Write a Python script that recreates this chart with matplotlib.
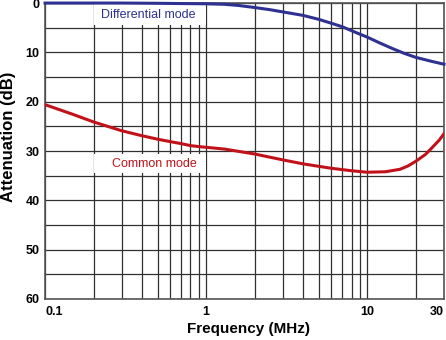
import numpy as np
import matplotlib.pyplot as plt
from matplotlib.patches import Rectangle
from matplotlib.ticker import FixedLocator, NullFormatter

plt.rcParams['font.family'] = ['Liberation Sans', 'DejaVu Sans']

# values
diff_freq = [0.1, 0.2, 0.3, 0.5, 0.7, 1.0, 1.3, 1.6, 2, 2.5, 3, 4, 5, 6, 7, 8, 9, 10, 12, 14.3, 17, 20, 25, 30]
diff_db = [0.0, 0.0, 0.0, 0.05, 0.1, 0.15, 0.25, 0.5, 0.9, 1.35, 1.8, 2.5, 3.3, 4.1, 4.8, 5.6, 6.3, 6.9, 8.1, 9.2, 10.2, 11.0, 11.8, 12.4]

cm_freq = [0.1, 0.15, 0.2, 0.3, 0.4, 0.5, 0.6, 0.7, 0.8, 0.9, 1.3, 2, 3, 4, 5, 6, 8, 10, 13, 16, 18, 20, 23, 25, 28, 30]
cm_db = [20.6, 22.6, 24.1, 25.9, 26.9, 27.6, 28.1, 28.5, 28.9, 29.1, 29.6, 30.6, 31.8, 32.6, 33.1, 33.5, 34.0, 34.3, 34.2, 33.7, 33.0, 32.1, 30.7, 29.5, 27.8, 26.5]

x_ticks = [0.1, 1, 10, 30]
x_ticklabels = ['0.1', '1', '10', '30']
x_grid = [0.2, 0.3, 0.4, 0.5, 0.6, 0.7, 0.8, 0.9, 2, 3, 4, 5, 6, 7, 8, 9, 20]
y_ticks = [0, 10, 20, 30, 40, 50, 60]
y_grid = [5, 15, 25, 35, 45, 55]

blue = '#2e3192'
red = '#c1121a'

fig = plt.figure(figsize=(4.46, 3.4), dpi=100)
ax = fig.add_axes([0.101, 0.1206, 0.8945, 0.8704])

ax.set_xscale('log')
ax.set_xlim(0.1, 30)
ax.set_ylim(60, 0)

ax.xaxis.set_major_locator(FixedLocator(x_ticks))
ax.xaxis.set_minor_locator(FixedLocator(x_grid))
ax.xaxis.set_minor_formatter(NullFormatter())
ax.set_xticklabels(x_ticklabels)
ax.set_yticks(y_ticks)
ax.yaxis.set_minor_locator(FixedLocator(y_grid))

ax.grid(True, which='both', color='#303030', lw=0.9, zorder=1)
ax.set_axisbelow(True)
ax.tick_params(which='both', length=0)
ax.tick_params(axis='x', pad=5)
ax.tick_params(axis='y', pad=4)
for lbl in ax.get_xticklabels() + ax.get_yticklabels():
    lbl.set_fontsize(9)
    lbl.set_fontweight('bold')
xl = ax.get_xticklabels()
xl[0].set_horizontalalignment('left')
xl[-1].set_horizontalalignment('right')

for s in ax.spines.values():
    s.set_color('#555555')
    s.set_linewidth(1.2)

# white boxes behind the curve labels
ax.add_patch(Rectangle((0.2, 0), 0.8, 4.4, facecolor='white', edgecolor='none', zorder=2))
ax.add_patch(Rectangle((0.2, 30.6), 0.8, 3.8, facecolor='white', edgecolor='none', zorder=2))

ax.plot(diff_freq, diff_db, color=blue, lw=2.2, zorder=3, clip_on=False)
ax.plot(cm_freq, cm_db, color=red, lw=2.2, zorder=3)

ax.text(0.44, 2.5, 'Differential mode', color=blue, fontsize=9, ha='center', va='center', zorder=4)
ax.text(0.48, 32.7, 'Common mode', color=red, fontsize=9, ha='center', va='center', zorder=4)

fig.text(248 / 446, 1 - 329 / 340, 'Frequency (MHz)', fontsize=11, fontweight='bold',
         ha='center', va='center')
fig.text(9 / 446, 1 - 137 / 340, 'Attenuation (dB)', fontsize=12, fontweight='bold',
         ha='center', va='center', rotation=90)

fig.savefig('out.png', dpi=100)
